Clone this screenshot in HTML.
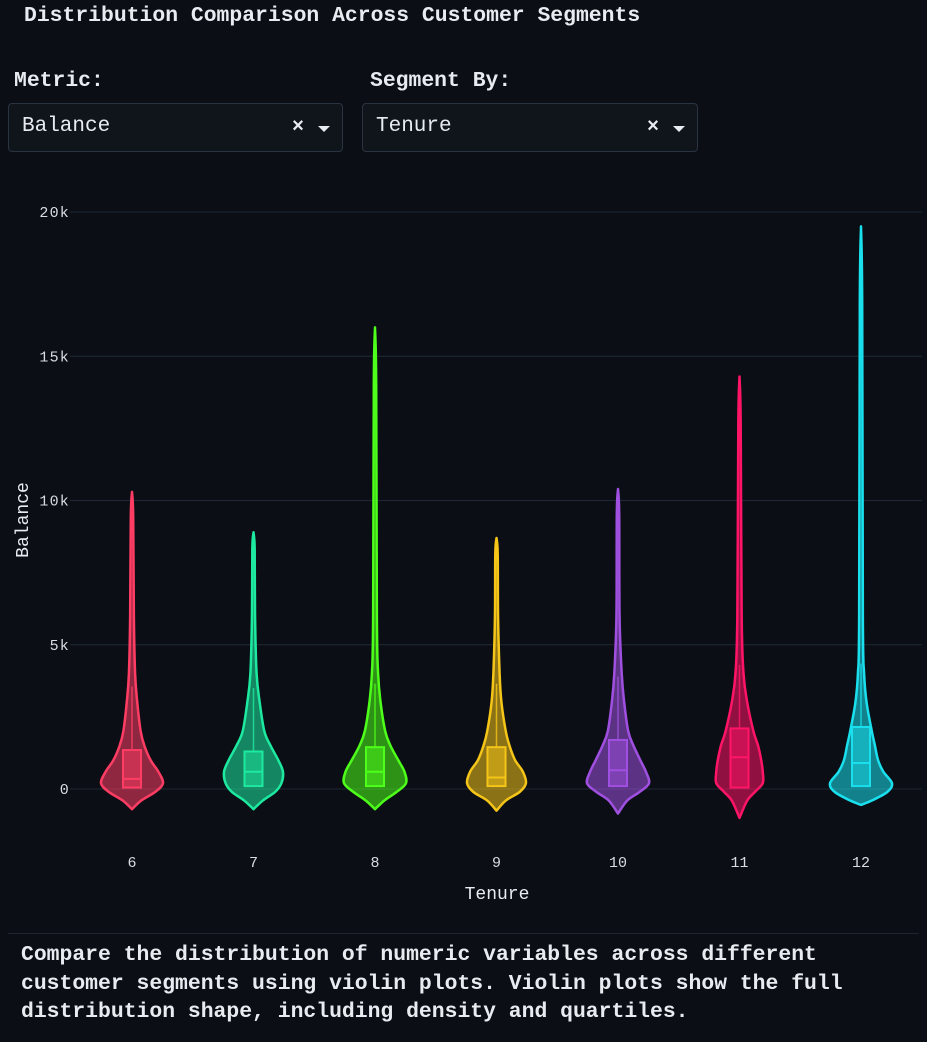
<!DOCTYPE html>
<html><head><meta charset="utf-8">
<style>
html,body{margin:0;padding:0;background:#0b0e14;width:927px;height:1042px;overflow:hidden;}
body{font-family:"Liberation Mono",monospace;color:#e8ecf0;position:relative;}
.title{position:absolute;left:24px;top:4px;font-size:21.4px;font-weight:bold;}
.lbl{position:absolute;top:69px;font-size:21.4px;font-weight:bold;}
.dd{position:absolute;top:103px;height:49px;border:1px solid #2a3340;border-radius:4px;background:#10151c;box-sizing:border-box;}
.dd .v{position:absolute;left:13px;top:11px;font-size:21px;}
.dd .x{position:absolute;right:38px;top:12px;font-size:20px;font-weight:bold;}
.dd .c{position:absolute;right:12px;top:22px;width:0;height:0;border-left:6px solid transparent;border-right:6px solid transparent;border-top:6px solid #e8ecf0;}
.desc{position:absolute;left:21px;top:941px;font-size:21.4px;font-weight:bold;line-height:28.5px;}
.sep{position:absolute;left:8px;right:8px;top:933px;height:1px;background:#1e2530;}
</style></head><body>
<div class="title">Distribution Comparison Across Customer Segments</div>
<div class="lbl" style="left:14px">Metric:</div>
<div class="lbl" style="left:370px">Segment By:</div>
<div class="dd" style="left:8px;width:335px"><span class="v">Balance</span><span class="x">×</span><span class="c"></span></div>
<div class="dd" style="left:362px;width:336px"><span class="v">Tenure</span><span class="x">×</span><span class="c"></span></div>
<svg id="chart" width="927" height="930" style="position:absolute;left:0;top:0"></svg>
<div class="sep"></div>
<div class="desc">Compare the distribution of numeric variables across different<br>customer segments using violin plots. Violin plots show the full<br>distribution shape, including density and quartiles.</div>
<script>
const categories = ['6','7','8','9','10','11','12'];
const colors = ['#ff3d64','#1de9a0','#4dff1a','#f5c518','#a050e0','#ff1466','#1ae0ee'];
const maxVals = [10.3,8.9,16.0,8.7,10.4,14.3,19.5];
const minVals = [-0.7,-0.7,-0.7,-0.75,-0.85,-1.0,-0.55];
const q1 = [0.05,0.1,0.1,0.1,0.1,0.05,0.1];
const medians = [0.35,0.6,0.6,0.4,0.65,1.1,0.9];
const q3 = [1.35,1.3,1.45,1.45,1.7,2.1,2.15];
const lowLevels = [-0.4,-0.1];
const levels = [0.2,0.6,1.0,1.5,2.0,3.0,4.0,6.0];
const lowWidths = [
 [0.3,0.75],[0.3,0.7],[0.3,0.7],[0.3,0.75],[0.3,0.7],[0.25,0.5],[0.35,0.85]
];
const widths = [
 [1.0,0.85,0.6,0.4,0.28,0.17,0.1,0.06],
 [0.9,0.95,0.8,0.55,0.35,0.2,0.1,0.05],
 [1.0,0.95,0.75,0.5,0.33,0.18,0.1,0.06],
 [0.95,0.85,0.6,0.42,0.3,0.16,0.1,0.05],
 [1.0,0.9,0.72,0.5,0.33,0.2,0.12,0.05],
 [0.75,0.75,0.7,0.6,0.45,0.25,0.13,0.07],
 [1.0,0.72,0.55,0.45,0.35,0.18,0.1,0.06]
];
const yTicks = [0,5,10,15,20];
const yTickLabels = ['0','5k','10k','15k','20k'];

const NS='http://www.w3.org/2000/svg';
const svg=document.getElementById('chart');
const plotL=70, plotR=922;
function yS(v){return 789 - v*28.85;}
function xS(i){return 132 + i*121.5;}
const HW=31;
function el(t,a){const e=document.createElementNS(NS,t);for(const k in a)e.setAttribute(k,a[k]);svg.appendChild(e);return e;}

yTicks.forEach((t,i)=>{
  const g=el('line',{x1:plotL,x2:plotR,y1:yS(t),y2:yS(t),stroke:'#1f2834','stroke-width':1});
  
  
  const tx=el('text',{x:70,y:yS(t)+5,'text-anchor':'end','font-size':15,'letter-spacing':1.2,fill:'#d8dde3','font-family':'Liberation Mono, monospace'});
  tx.textContent=yTickLabels[i];
  
  
});
categories.forEach((c,i)=>{
  const tx=el('text',{x:xS(i),y:867,'text-anchor':'middle','font-size':15,fill:'#d8dde3','font-family':'Liberation Mono, monospace'});
  tx.textContent=c;
  
  
});
const xt=el('text',{x:497,y:899,'text-anchor':'middle','font-size':18,fill:'#e8ecf0','font-family':'Liberation Mono, monospace'});
xt.textContent='Tenure';


const yt=el('text',{x:0,y:0,'text-anchor':'middle','font-size':18,fill:'#e8ecf0','font-family':'Liberation Mono, monospace',transform:'translate(28,520) rotate(-90)'});
yt.textContent='Balance';



function smooth(pts){
  let d='M'+pts[0][0]+','+pts[0][1];
  for(let i=0;i<pts.length-1;i++){
    const p0=pts[Math.max(0,i-1)],p1=pts[i],p2=pts[i+1],p3=pts[Math.min(pts.length-1,i+2)];
    const c1=[p1[0]+(p2[0]-p0[0])/6,p1[1]+(p2[1]-p0[1])/6];
    const c2=[p2[0]-(p3[0]-p1[0])/6,p2[1]-(p3[1]-p1[1])/6];
    d+=' C'+c1[0]+','+c1[1]+' '+c2[0]+','+c2[1]+' '+p2[0]+','+p2[1];
  }
  return d;
}
categories.forEach((c,i)=>{
  const cx=xS(i), col=colors[i];
  const right=[[cx,yS(minVals[i])]];
  lowLevels.forEach((v,j)=>right.push([cx+HW*lowWidths[i][j],yS(v)]));
  levels.forEach((v,j)=>{ if(v<maxVals[i]) right.push([cx+HW*widths[i][j],yS(v)]); });
  right.push([cx+1.2,yS(maxVals[i]*0.8+levels[levels.length-1]*0.2)]);
  right.push([cx,yS(maxVals[i])]);
  const left=right.slice().reverse().map(p=>[2*cx-p[0],p[1]]);
  const d=smooth(right)+' '+smooth(left).replace(/^M/,'L')+' Z';
  const p=el('path',{d:d,fill:col,'fill-opacity':0.55,stroke:col,'stroke-width':2.5,'stroke-linejoin':'round'});
  
  
  const w=el('line',{x1:cx,x2:cx,y1:yS(q3[i]),y2:yS(q3[i]+2.2),stroke:col,'stroke-width':1.5,'stroke-opacity':0.8});
  
  
  const b=el('rect',{x:cx-9,y:yS(q3[i]),width:18,height:yS(q1[i])-yS(q3[i]),fill:col,'fill-opacity':0.5,stroke:col,'stroke-width':2});
  
  
  const m=el('line',{x1:cx-9,x2:cx+9,y1:yS(medians[i]),y2:yS(medians[i]),stroke:col,'stroke-width':2});
  
  
});
</script>
</body></html>
